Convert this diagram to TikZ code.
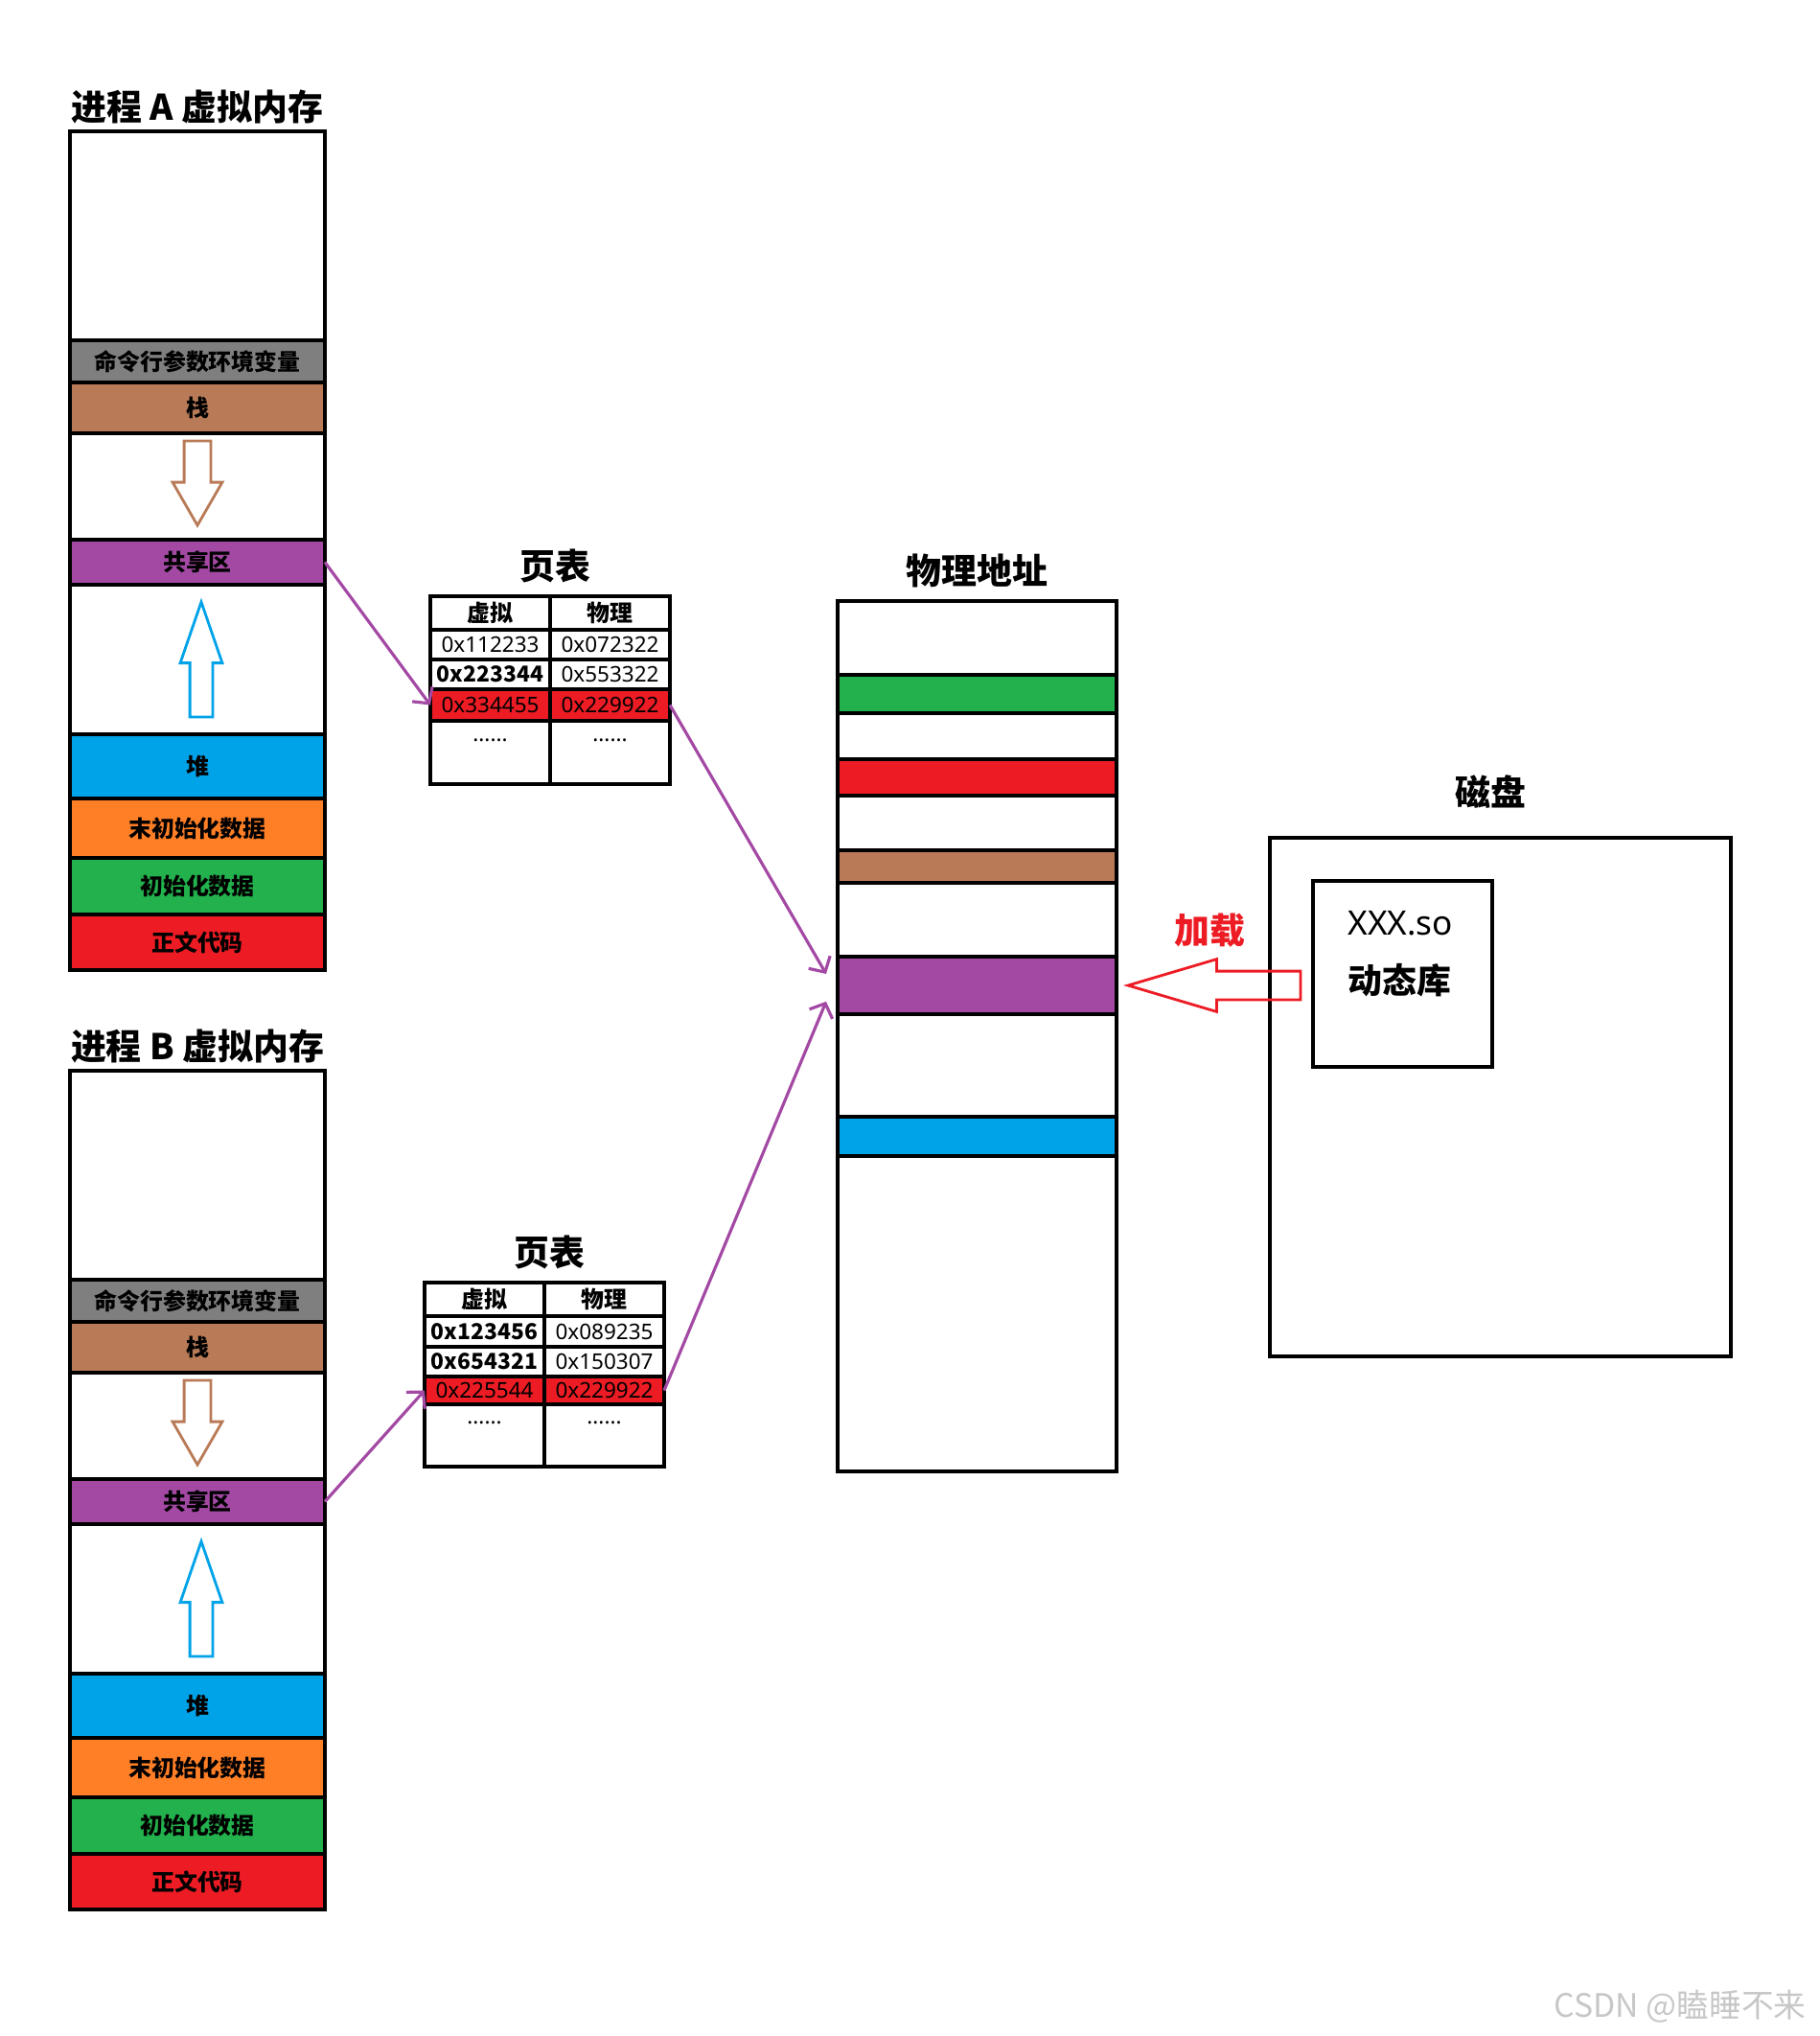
\documentclass[tikz,border=0pt]{standalone}
\usepackage{fontspec}
\setmainfont{Noto Sans CJK SC}
\newfontfamily\numfont{Noto Sans}
\usepackage{tikz}
\usetikzlibrary{arrows.meta,positioning,shapes.arrows,calc}

\definecolor{pgray}{HTML}{7F7F7F}
\definecolor{pbrown}{HTML}{B97A57}
\definecolor{ppurple}{HTML}{A349A4}
\definecolor{pblue}{HTML}{00A2E8}
\definecolor{porange}{HTML}{FF7F27}
\definecolor{pgreen}{HTML}{22B14C}
\definecolor{pred}{HTML}{ED1C24}

\begin{document}
\begin{tikzpicture}[
seg/.style={draw,line width=1.1pt,outer sep=0pt,inner sep=0pt,minimum width=2.66cm,font=\bfseries\fontsize{6.8}{8}\selectfont},
mem/.style={draw,line width=1.1pt,outer sep=0pt,inner sep=0pt,minimum width=2.91cm},
cell/.style={draw,line width=1.1pt,outer sep=0pt,inner sep=0pt,minimum width=1.25cm,minimum height=0.31cm,font=\numfont\fontsize{6.4}{7}\selectfont},
bcell/.style={cell,font=\bfseries\fontsize{6.5}{7}\selectfont},
hit/.style={cell,fill=pred},
dots/.style={cell,minimum height=0.66cm,text height=0.1cm,text depth=0.34cm},
head/.style={cell,minimum height=0.35cm,font=\bfseries\fontsize{6.8}{8}\selectfont},
ttl/.style={font=\bfseries\fontsize{10.5}{12}\selectfont},
blockarrow/.style={single arrow,draw,line width=0.8pt,outer sep=0pt,single arrow head indent=0pt},
link/.style={-{Straight Barb[length=1.2mm,width=2.6mm]},line width=0.9pt,ppurple}]
\useasboundingbox (0,0) rectangle (18.99,-21.24);

% two process address spaces
\foreach \p/\q/\dy in {a/A/0,b/B/-9.8}{
\begin{scope}[yshift=\dy cm]
\node[seg,anchor=north west,minimum height=2.18cm](\p-free) at (0.73,-1.37){};
\node[seg,fill=pgray,minimum height=0.44cm,below=0pt of \p-free](\p-env){命令行参数环境变量};
\node[seg,fill=pbrown,minimum height=0.53cm,below=0pt of \p-env](\p-stack){栈};
\node[seg,minimum height=1.11cm,below=0pt of \p-stack](\p-gap1){};
\node[seg,fill=ppurple,minimum height=0.47cm,below=0pt of \p-gap1](\p-share){共享区};
\node[seg,minimum height=1.56cm,below=0pt of \p-share](\p-gap2){};
\node[seg,fill=pblue,minimum height=0.67cm,below=0pt of \p-gap2](\p-heap){堆};
\node[seg,fill=porange,minimum height=0.62cm,below=0pt of \p-heap](\p-bss){末初始化数据};
\node[seg,fill=pgreen,minimum height=0.59cm,below=0pt of \p-bss](\p-data){初始化数据};
\node[seg,fill=pred,minimum height=0.58cm,below=0pt of \p-data](\p-text){正文代码};
\node[ttl,above=-0.05cm of \p-free](\p-title){进程 \q{} 虚拟内存};
\node[blockarrow,pbrown,shape border rotate=270,inner sep=0.125cm,minimum height=0.88cm,
  single arrow head extend=0.12cm,single arrow tip angle=60,anchor=tail](\p-down) at ([yshift=-0.08cm]\p-gap1.north){};
\node[blockarrow,pblue,shape border rotate=90,inner sep=0.105cm,minimum height=1.2cm,
  single arrow head extend=0.1cm,single arrow tip angle=38,anchor=tail](\p-up) at ([shift={(0.04,0.18)}]\p-gap2.south){};
\end{scope}}

% page table A
\node[head,anchor=north west](ta-h1) at (4.49,-6.22){虚拟};
\node[head,right=0pt of ta-h1](ta-h2){物理};
\node[cell,below=0pt of ta-h1](ta-v1){0x112233};
\node[cell,below=0pt of ta-h2](ta-p1){0x072322};
\node[bcell,below=0pt of ta-v1](ta-v2){0x223344};
\node[cell,below=0pt of ta-p1](ta-p2){0x553322};
\node[hit,minimum height=0.33cm,below=0pt of ta-v2](ta-v3){0x334455};
\node[hit,minimum height=0.33cm,below=0pt of ta-p2](ta-p3){0x229922};
\node[dots,below=0pt of ta-v3](ta-v4){......};
\node[dots,below=0pt of ta-p3](ta-p4){......};
\node[ttl,above=0.02cm of ta-h1.north east,xshift=0.05cm](ta-title){页表};

% page table B
\node[head,anchor=north west](tb-h1) at (4.43,-13.38){虚拟};
\node[head,right=0pt of tb-h1](tb-h2){物理};
\node[bcell,minimum height=0.32cm,below=0pt of tb-h1](tb-v1){0x123456};
\node[cell,minimum height=0.32cm,below=0pt of tb-h2](tb-p1){0x089235};
\node[bcell,below=0pt of tb-v1](tb-v2){0x654321};
\node[cell,below=0pt of tb-p1](tb-p2){0x150307};
\node[hit,minimum height=0.29cm,below=0pt of tb-v2](tb-v3){0x225544};
\node[hit,minimum height=0.29cm,below=0pt of tb-p2](tb-p3){0x229922};
\node[dots,minimum height=0.65cm,below=0pt of tb-v3](tb-v4){......};
\node[dots,minimum height=0.65cm,below=0pt of tb-p3](tb-p4){......};
\node[ttl,above=0.02cm of tb-h1.north east,xshift=0.05cm](tb-title){页表};

% physical memory
\node[mem,anchor=north west,minimum height=0.77cm](pm-top) at (8.74,-6.27){};
\node[mem,fill=pgreen,minimum height=0.40cm,below=0pt of pm-top](pm-data){};
\node[mem,minimum height=0.48cm,below=0pt of pm-data](pm-gap1){};
\node[mem,fill=pred,minimum height=0.38cm,below=0pt of pm-gap1](pm-text){};
\node[mem,minimum height=0.57cm,below=0pt of pm-text](pm-gap2){};
\node[mem,fill=pbrown,minimum height=0.34cm,below=0pt of pm-gap2](pm-stack){};
\node[mem,minimum height=0.77cm,below=0pt of pm-stack](pm-gap3){};
\node[mem,fill=ppurple,minimum height=0.60cm,below=0pt of pm-gap3](pm-share){};
\node[mem,minimum height=1.07cm,below=0pt of pm-share](pm-gap4){};
\node[mem,fill=pblue,minimum height=0.41cm,below=0pt of pm-gap4](pm-heap){};
\node[mem,minimum height=3.29cm,below=0pt of pm-heap](pm-rest){};
\node[ttl,above=0.02cm of pm-top](pm-title){物理地址};
\coordinate (pm-inA) at ($(pm-share.north west)!0.3!(pm-share.south west)+(-0.12,0)$);
\coordinate (pm-inB) at ($(pm-share.north west)!0.78!(pm-share.south west)+(-0.12,0)$);

% disk
\node[draw,line width=1.1pt,inner sep=0pt,minimum width=4.81cm,minimum height=5.41cm,anchor=north west](disk) at (13.23,-8.72){};
\node[ttl,above=0.16cm of disk,xshift=-0.1cm](disk-title){磁盘};
\node[draw,line width=1.1pt,inner sep=0pt,minimum width=1.87cm,minimum height=1.94cm,anchor=north west](lib) at (13.68,-9.17){};
\node[anchor=west,inner sep=0pt,font=\numfont\fontsize{10}{12}\selectfont](lib-name) at (14.06,-9.63){XXX.so};
\node[ttl,anchor=west,inner sep=0pt,font=\bfseries\fontsize{10.2}{12}\selectfont](lib-kind) at (14.06,-10.23){动态库};
\node[blockarrow,pred,shape border rotate=180,inner sep=0.135cm,minimum height=1.8cm,
  single arrow head extend=0.125cm,single arrow tip angle=33,anchor=tip](load) at ([xshift=0.12cm]pm-share.east){};
\node[ttl,text=pred](load-label) at (12.62,-9.71){加载};

\draw[link](a-share.east)--(ta-v3.west);
\draw[link](ta-p3.east)--(pm-inA);
\draw[link](b-share.east)--(tb-v3.west);
\draw[link](tb-p3.east)--(pm-inB);

\node[anchor=east,text=black!22,font=\fontsize{9.6}{12}\selectfont](mark) at (18.97,-20.93){CSDN @瞌睡不来};
\end{tikzpicture}
\end{document}
